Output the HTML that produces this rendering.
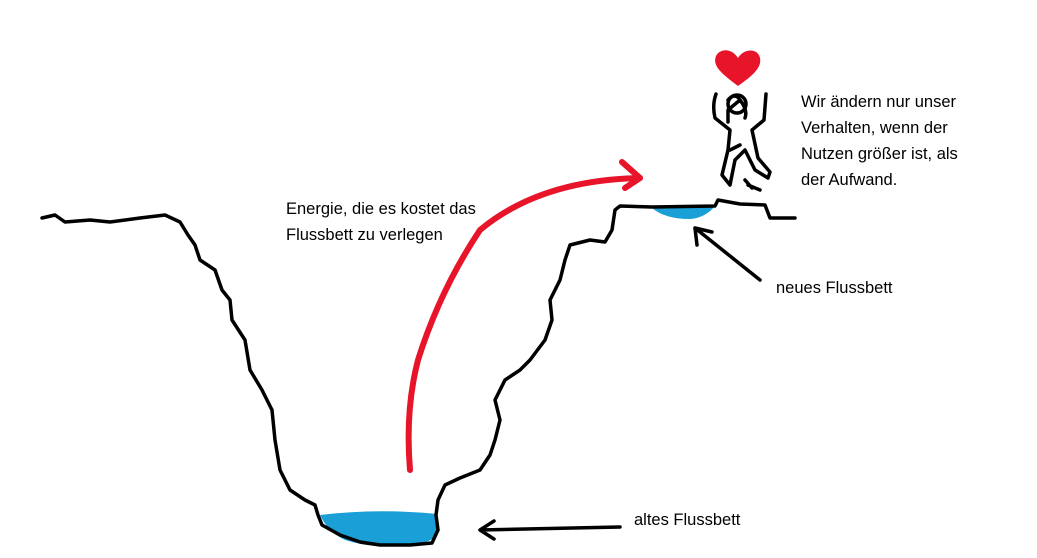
<!DOCTYPE html>
<html><head><style>
body{margin:0;background:#fff;width:1037px;height:558px;overflow:hidden;position:relative;font-family:"Liberation Sans",sans-serif;}
.t{position:absolute;font-size:16.5px;color:#000;line-height:26px;white-space:nowrap}
svg{position:absolute;left:0;top:0}
</style></head><body>
<svg width="1037" height="558" viewBox="0 0 1037 558">
<path d="M320,515 Q378,508 437,514 L436,535 Q430,545 400,546 Q370,548 345,540 Q328,532 320,515Z" fill="#1a9fd6"/>
<path d="M652,208 L715,206 Q705,218 690,219 Q665,219 652,208Z" fill="#1a9fd6"/>
<g fill="none" stroke="#000" stroke-width="3.5" stroke-linejoin="round" stroke-linecap="round">
<path d="M42,218 L55,215 L65,222 L90,220 L110,222 L140,218 L165,215 L180,222 L188,235 L195,245 L200,260 L215,270 L222,290 L230,300 L232,320 L245,340 L250,370 L262,390 L272,410 L275,440 L280,470 L290,490 L305,500 L315,505 L318,515 L322,525 L340,535 L360,542 L380,545 L410,545 L432,543 L438,530 L436,515 L438,500 L445,485 L460,478 L480,470 L490,455 L495,440 L500,420 L495,400 L505,380 L520,370 L530,360 L545,340 L552,320 L550,300 L560,280 L565,260 L570,245 L590,240 L605,242 L612,230 L615,210 L620,206 L652,207 L715,206 L718,200 L740,204 L765,205 L770,218 L795,218"/>
<path d="M695,228 L760,280 M695,228 L697,245 M695,228 L712,232"/>
<path d="M480,530 L620,527 M480,530 L494,521 M480,530 L494,539"/>
<path d="M716,94 Q712,105 715,118 L730,130 L728,150 L722,175 L730,185 L735,160 L745,150 L755,170 L768,178 L770,172 L758,158 L752,130 L764,120 L766,94 M728,122 L728,110 L740,100 Q735,92 728,100 M730,150 L740,145 M740,100 Q748,110 745,118"/>
<circle cx="737" cy="104" r="9"/>
<path d="M748,185 L760,190 M745,180 L752,188"/>
</g>
<path d="M410,470 Q405,410 418,360 Q440,290 480,230 Q540,180 640,178" fill="none" stroke="#e8142a" stroke-width="6" stroke-linecap="round"/>
<path d="M622,162 L640,178 L625,188" fill="none" stroke="#e8142a" stroke-width="6" stroke-linecap="round" stroke-linejoin="round"/>
<path d="M738,86 C722,74 712,66 716,56 C720,48 732,48 738,58 C744,48 758,48 760,58 C762,68 752,76 738,86Z" fill="#e8142a"/>
</svg>
<div class="t" style="left:286px;top:196px">Energie, die es kostet das<br>Flussbett zu verlegen</div>
<div class="t" style="left:801px;top:89px">Wir ändern nur unser<br>Verhalten, wenn der<br>Nutzen größer ist, als<br>der Aufwand.</div>
<div class="t" style="left:776px;top:275px">neues Flussbett</div>
<div class="t" style="left:634px;top:507px">altes Flussbett</div>
</body></html>
